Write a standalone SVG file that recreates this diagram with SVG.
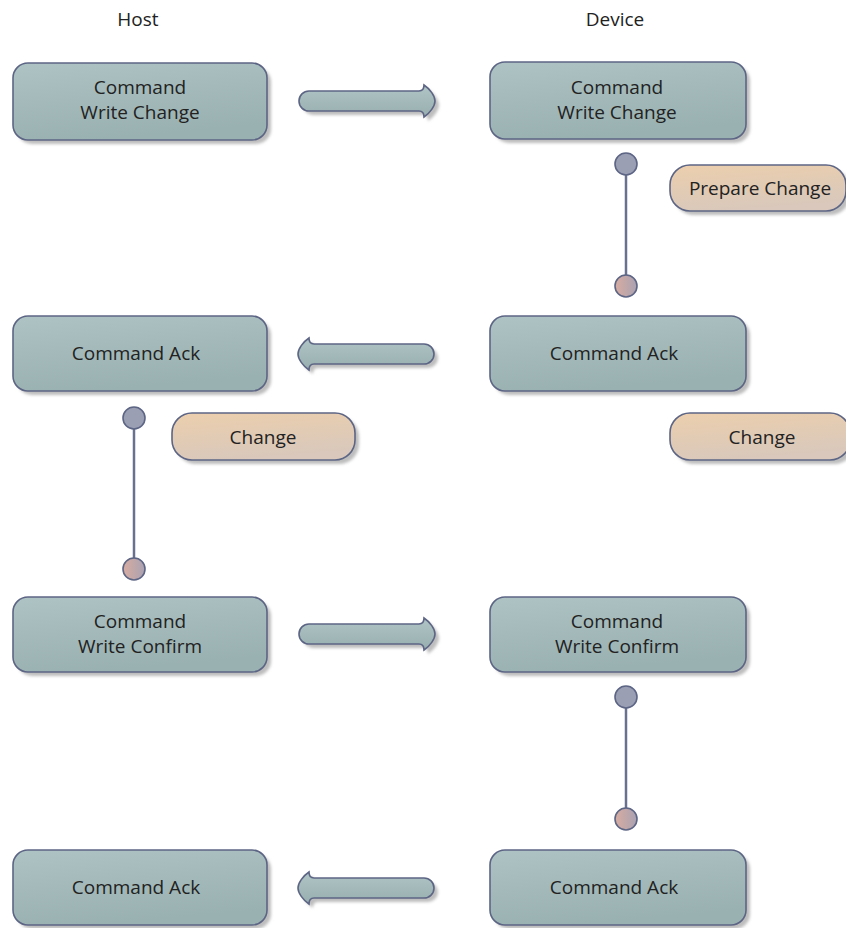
<svg xmlns="http://www.w3.org/2000/svg" width="846" height="928" viewBox="0 0 846 928">
<defs>
<style>
.t{font-family:"Open Sans","Noto Sans","Liberation Sans",sans-serif;font-size:19px;fill:#222;text-anchor:middle}
.h{font-family:"Open Sans","Noto Sans","Liberation Sans",sans-serif;font-size:19px;fill:#222;text-anchor:middle}
.box{fill:url(#gT);stroke:#5d6585;stroke-width:1.6}
.act{fill:url(#gO);stroke:#5d6585;stroke-width:1.6}
.sh{fill:#bdbdbd;filter:url(#blur)}
.arr{fill:url(#gA);stroke:#5d6585;stroke-width:1.6}
.life{stroke:#6a7090;stroke-width:2.5}
.c1{fill:#9a9fb4;stroke:#5d6585;stroke-width:1.6}
.c2{fill:url(#gC);stroke:#5d6585;stroke-width:1.6}
</style>
<linearGradient id="gT" x1="0" y1="0" x2="0.3" y2="1">
<stop offset="0" stop-color="#aec3c3"/><stop offset="1" stop-color="#9ab1b1"/>
</linearGradient>
<linearGradient id="gA" x1="0" y1="0" x2="0" y2="1">
<stop offset="0" stop-color="#b0c5c5"/><stop offset="1" stop-color="#98afaf"/>
</linearGradient>
<linearGradient id="gO" x1="0" y1="0" x2="0.3" y2="1">
<stop offset="0" stop-color="#eccfad"/><stop offset="1" stop-color="#d9c8bb"/>
</linearGradient>
<linearGradient id="gC" x1="0" y1="0" x2="1" y2="0">
<stop offset="0" stop-color="#d8aca0"/><stop offset="1" stop-color="#a9a2b2"/>
</linearGradient>
<filter id="blur" x="-10%" y="-10%" width="120%" height="130%"><feGaussianBlur stdDeviation="1.5"/></filter>
<path id="ar" d="M10,-10 H120 C124,-10 125,-13 125,-16 C131,-12 136,-5 136,0 C136,5 131,12 125,16 C125,13 124,10 120,10 H10 A10,10 0 0 1 10,-10 Z"/>
</defs>

<text class="h" x="138" y="26">Host</text>
<text class="h" x="615" y="26">Device</text>

<g id="connectors">
<g id="a1"><use href="#ar" class="sh" transform="translate(303,105)"/><use href="#ar" class="arr" transform="translate(299,101)"/></g>
<g id="a2"><use href="#ar" class="sh" transform="translate(438,358) scale(-1,1)"/><use href="#ar" class="arr" transform="translate(434,354) scale(-1,1)"/></g>
<g id="a3"><use href="#ar" class="sh" transform="translate(303,638)"/><use href="#ar" class="arr" transform="translate(299,634)"/></g>
<g id="a4"><use href="#ar" class="sh" transform="translate(438,892) scale(-1,1)"/><use href="#ar" class="arr" transform="translate(434,888) scale(-1,1)"/></g>
<g id="l1"><line class="life" x1="626" y1="165" x2="626" y2="285"/><circle class="c1" cx="626" cy="164" r="11"/><circle class="c2" cx="626" cy="286" r="11"/></g>
<g id="l2"><line class="life" x1="134" y1="418" x2="134" y2="568"/><circle class="c1" cx="134" cy="418" r="11"/><circle class="c2" cx="134" cy="569" r="11"/></g>
<g id="l3"><line class="life" x1="626" y1="698" x2="626" y2="818"/><circle class="c1" cx="626" cy="697" r="11"/><circle class="c2" cx="626" cy="819" r="11"/></g>
</g>

<g id="host1"><rect class="sh" x="17" y="67" width="254" height="77" rx="15"/><rect class="box" x="13" y="63" width="254" height="77" rx="15"/><text class="t" x="140" y="94">Command</text><text class="t" x="140" y="119">Write Change</text></g>
<g id="dev1"><rect class="sh" x="494" y="66" width="256" height="77" rx="15"/><rect class="box" x="490" y="62" width="256" height="77" rx="15"/><text class="t" x="617" y="94">Command</text><text class="t" x="617" y="119">Write Change</text></g>
<g id="prep"><rect class="sh" x="674" y="169" width="176" height="46" rx="20"/><rect class="act" x="670" y="165" width="176" height="46" rx="20"/><text class="t" x="760" y="195">Prepare Change</text></g>

<g id="host2"><rect class="sh" x="17" y="320" width="254" height="75" rx="15"/><rect class="box" x="13" y="316" width="254" height="75" rx="15"/><text class="t" x="136" y="360">Command Ack</text></g>
<g id="dev2"><rect class="sh" x="494" y="320" width="256" height="75" rx="15"/><rect class="box" x="490" y="316" width="256" height="75" rx="15"/><text class="t" x="614" y="360">Command Ack</text></g>
<g id="chg1"><rect class="sh" x="176" y="417" width="183" height="47" rx="20"/><rect class="act" x="172" y="413" width="183" height="47" rx="20"/><text class="t" x="263" y="444">Change</text></g>
<g id="chg2"><rect class="sh" x="674" y="417" width="180" height="47" rx="20"/><rect class="act" x="670" y="413" width="180" height="47" rx="20"/><text class="t" x="762" y="444">Change</text></g>

<g id="host3"><rect class="sh" x="17" y="601" width="254" height="75" rx="15"/><rect class="box" x="13" y="597" width="254" height="75" rx="15"/><text class="t" x="140" y="628">Command</text><text class="t" x="140" y="653">Write Confirm</text></g>
<g id="dev3"><rect class="sh" x="494" y="601" width="256" height="75" rx="15"/><rect class="box" x="490" y="597" width="256" height="75" rx="15"/><text class="t" x="617" y="628">Command</text><text class="t" x="617" y="653">Write Confirm</text></g>

<g id="host4"><rect class="sh" x="17" y="854" width="254" height="75" rx="15"/><rect class="box" x="13" y="850" width="254" height="75" rx="15"/><text class="t" x="136" y="894">Command Ack</text></g>
<g id="dev4"><rect class="sh" x="494" y="854" width="256" height="75" rx="15"/><rect class="box" x="490" y="850" width="256" height="75" rx="15"/><text class="t" x="614" y="894">Command Ack</text></g>
</svg>
